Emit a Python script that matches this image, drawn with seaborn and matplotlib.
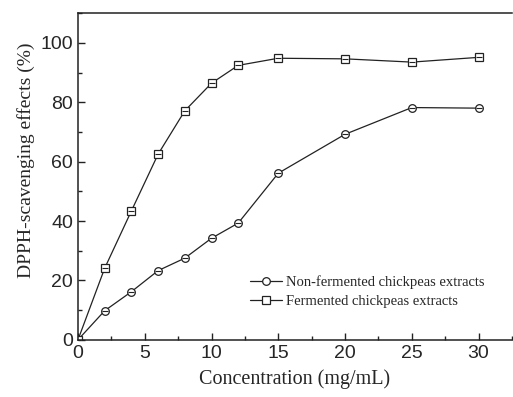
import numpy as np
import pandas as pd
import matplotlib
matplotlib.use("Agg")
import matplotlib.pyplot as plt
import seaborn as sns
from matplotlib.ticker import MultipleLocator

# data
conc = [0, 2, 4, 6, 8, 10, 12, 15, 20, 25, 30]
non_fermented = [0, 9.8, 16.2, 23.3, 27.5, 34.2, 39.3, 56.1, 69.2, 78.2, 78.0]
fermented = [0, 24.1, 43.4, 62.5, 77.1, 86.4, 92.4, 94.8, 94.6, 93.5, 95.1]
labels = ["Non-fermented chickpeas extracts", "Fermented chickpeas extracts"]

df = pd.DataFrame({"conc": conc * 2,
                   "value": non_fermented + fermented,
                   "sample": [labels[0]] * len(conc) + [labels[1]] * len(conc)})

sns.set_style("ticks")
plt.rcParams["font.family"] = ["Liberation Sans", "DejaVu Sans"]

fig = plt.figure(figsize=(5.13, 3.97), dpi=100)
ax = fig.add_axes([0.152, 0.144, 0.846, 0.823])

sns.lineplot(data=df, x="conc", y="value", hue="sample", style="sample",
             markers={labels[0]: "o", labels[1]: "s"}, dashes=False,
             palette=["#222222", "#222222"], linewidth=0.9,
             markersize=5.5, markerfacecolor="white", markeredgecolor="#222222",
             markeredgewidth=0.9, ax=ax)

# small horizontal bar inside each marker
for s in labels:
    sub = df[df["sample"] == s]
    ax.plot(sub["conc"], sub["value"], linestyle="none", marker="_",
            markersize=4, color="#222222", markeredgewidth=0.8)

ax.set_xlim(0, 32.5)
ax.set_ylim(0, 110)
ax.xaxis.set_major_locator(MultipleLocator(5))
ax.xaxis.set_minor_locator(MultipleLocator(2.5))
ax.yaxis.set_major_locator(MultipleLocator(20))
ax.yaxis.set_minor_locator(MultipleLocator(10))
ax.tick_params(which="both", direction="in", labelsize=14, width=1, color="#222222")
ax.tick_params(which="major", length=5)
ax.tick_params(which="minor", length=3)
for sp in ["left", "bottom", "top"]:
    ax.spines[sp].set_linewidth(1.1)
    ax.spines[sp].set_color("#222222")
ax.spines["right"].set_visible(False)

ax.set_xlabel("Concentration (mg/mL)", family="Liberation Serif", fontsize=14.5)
ax.set_ylabel("DPPH-scavenging effects (%)", family="Liberation Serif", fontsize=14)
ax.xaxis.set_label_coords(0.5, -0.09)
ax.yaxis.set_label_coords(-0.10, 0.55)

leg = ax.legend(loc="lower left", bbox_to_anchor=(0.365, 0.058), frameon=False,
                prop={"family": "Liberation Serif", "size": 10.5},
                handlelength=2.2, handletextpad=0.3, labelspacing=0.4)

fig.savefig("out.png", dpi=100)
